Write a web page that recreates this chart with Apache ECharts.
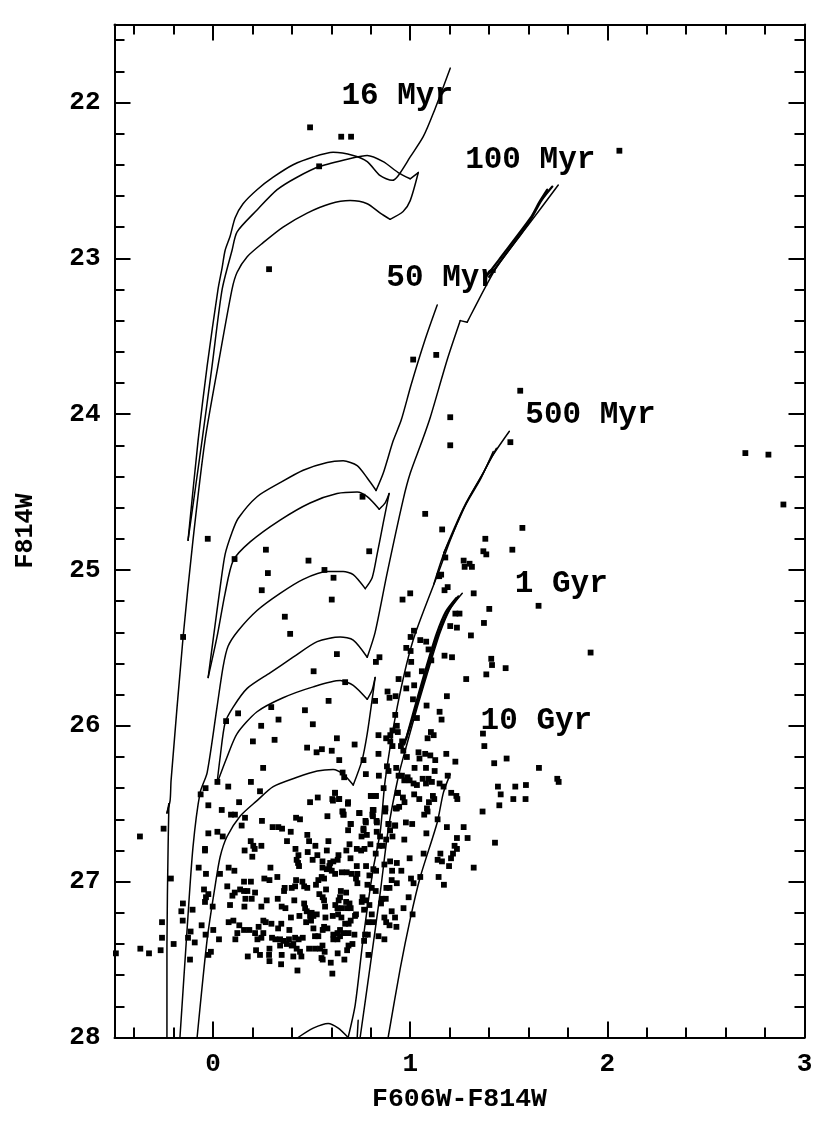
<!DOCTYPE html>
<html><head><meta charset="utf-8">
<style>html,body{margin:0;padding:0;background:#fff}#c{width:830px;height:1123px}</style>
<script src="https://cdn.jsdelivr.net/npm/echarts@6/dist/echarts.min.js"></script>
</head><body><div id="c"></div>
<script>
const xMajorTicks=[0,1,2,3];
const xMinorTicks=[-0.4,-0.2,0.2,0.4,0.6,0.8,1.2,1.4,1.6,1.8,2.2,2.4,2.6,2.8];
const yMajorTicks=[22,23,24,25,26,27,28];
const yMinorTicks=[21.6,21.8,22.2,22.4,22.6,22.8,23.2,23.4,23.6,23.8,24.2,24.4,24.6,24.8,25.2,25.4,25.6,25.8,26.2,26.4,26.6,26.8,27.2,27.4,27.6,27.8];
const ageNames=['16 Myr','100 Myr','50 Myr','500 Myr','1 Gyr','10 Gyr'];
const ageX=[0.934,1.609,1.162,1.914,1.766,1.64];
const ageY=[21.96,22.37,23.13,24.01,25.09,25.97];

const iso16=[[1.203,21.78],[1.117,22.07],[1.066,22.22],[1.0,22.35],[.939,22.47],[.909,22.5],[.848,22.47],[.782,22.38],[.711,22.34],[.609,22.32],[.508,22.35],[.406,22.4],[.305,22.48],[.223,22.56],[.152,22.65],[.112,22.74],[.086,22.86],[.061,22.95],[.046,23.06],[.025,23.2],[-.03,23.69],[-.076,24.17],[-.127,24.81],[-.056,24.17],[-.005,23.69],[.046,23.2],[.096,22.95],[.122,22.83],[.223,22.69],[.325,22.56],[.426,22.48],[.543,22.41],[.695,22.36],[.782,22.34],[.863,22.38],[.939,22.45],[1.0,22.49],[1.041,22.45],[1.0,22.63],[.964,22.7],[.898,22.75],[.848,22.71],[.782,22.65],[.695,22.63],[.594,22.65],[.477,22.71],[.355,22.8],[.254,22.9],[.173,22.99],[.122,23.09],[.096,23.2],[.025,23.69],[-.041,24.17],[-.102,24.81],[-.152,25.43],[-.213,26.35],[-.218,26.48],[-.234,26.56],[-.224,26.5],[-.228,26.77],[-.234,27.41],[-.234,28]];
const iso50=[[1.137,23.3],[1.076,23.52],[1.005,23.81],[.954,24.04],[.914,24.17],[.863,24.38],[.827,24.49],[.782,24.41],[.731,24.33],[.66,24.3],[.579,24.31],[.457,24.36],[.34,24.44],[.223,24.53],[.127,24.67],[.096,24.76],[.061,24.9],[.036,25.11],[0,25.45],[-.025,25.69],[.02,25.43],[.061,25.15],[.102,24.94],[.188,24.82],[.34,24.68],[.492,24.57],[.629,24.51],[.731,24.5],[.782,24.53],[.843,24.61],[.873,24.57],[.893,24.51],[.863,24.7],[.832,24.9],[.807,25.05],[.772,25.12],[.711,25.03],[.66,25.01],[.579,25.01],[.457,25.06],[.34,25.15],[.223,25.26],[.127,25.39],[.076,25.49],[.051,25.62],[.02,25.88],[-.03,26.3],[-.066,26.43],[-.102,26.78],[-.132,27.31],[-.168,28]];
const iso100=[[1.751,22.53],[1.609,22.77],[1.437,23.06],[1.289,23.41],[1.254,23.4],[1.188,23.65],[1.102,24.02],[1.061,24.17],[1.0,24.38],[.964,24.55],[.883,25.02],[.822,25.4],[.782,25.56],[.711,25.45],[.645,25.43],[.528,25.46],[.406,25.56],[.289,25.66],[.173,25.76],[.102,25.88],[.061,25.98],[.036,26.2],[.02,26.37],[.071,26.2],[.122,26.05],[.223,25.91],[.355,25.82],[.508,25.75],[.645,25.71],[.711,25.74],[.782,25.83],[.807,25.77],[.822,25.69],[.807,25.83],[.782,26.05],[.756,26.22],[.711,26.38],[.66,26.31],[.609,26.28],[.528,26.29],[.426,26.33],[.305,26.39],[.223,26.48],[.137,26.58],[.071,26.71],[.036,26.84],[.01,27.03],[-.03,27.37],[-.081,28]];
const iso100b=[[1.721,22.54],[1.665,22.63],[1.602,22.77],[1.44,23.05],[1.4,23.12]];
const iso100c=[[1.695,22.56],[1.655,22.64],[1.611,22.74],[1.45,23.01],[1.39,23.11]];
const iso500=[[1.503,24.11],[1.406,24.29],[1.355,24.42],[1.269,24.61],[1.203,24.81],[1.142,25.02],[1.015,25.45],[.934,25.88],[.873,26.35],[.848,26.68],[.812,26.92],[.761,27.37],[.721,27.79],[.685,28]];
const iso500b=[[1.437,24.22],[1.378,24.36],[1.293,24.55],[1.207,24.79],[1.17,24.89]];
const iso500c=[[1.421,24.24],[1.37,24.38],[1.283,24.57],[1.197,24.81],[1.155,24.95],[1.12,25.09]];
const iso1g=[[1.264,25.15],[1.203,25.25],[1.152,25.4],[1.102,25.6],[1.036,25.88],[.985,26.11],[.939,26.33],[.888,26.67],[.848,27.07],[.797,27.54],[.746,28]];
const iso1gb=[[1.244,25.17],[1.19,25.27],[1.14,25.42],[1.093,25.61],[1.03,25.88],[.97,26.12]];
const iso1gc=[[1.234,25.18],[1.18,25.27],[1.134,25.41],[1.085,25.61],[1.024,25.88],[.98,26.08]];
const iso10g=[[1.203,26.31],[1.168,26.43],[1.137,26.62],[1.051,26.97],[1.0,27.24],[.949,27.56],[.888,28]];
const isoBump=[[.431,28],[.508,27.94],[.584,27.91],[.635,27.94],[.685,28]];
const isoStub=[[.736,27.89],[.731,28]];

const stars=[[.077,26.39],[.192,26.36],[.022,26.36],[-.038,26.4],[-.063,26.44],[.238,26.42],[.132,26.49],[-.024,26.51],[.044,26.54],[.111,26.57],[.091,26.57],[.162,26.59],[.145,26.64],[.248,26.61],[-.251,26.66],[-.371,26.71],[.022,26.68],[-.024,26.69],[.049,26.71],[.302,26.65],[.331,26.65],[.35,26.66],[.394,26.68],[.421,26.59],[.441,26.6],[.492,26.49],[.531,26.46],[.605,26.47],[.619,26.43],[.639,26.47],[.685,26.49],[.58,26.58],[.656,26.55],[.661,26.57],[.741,26.56],[.8,26.45],[.825,26.45],[.874,26.53],[.81,26.54],[.808,26.57],[.829,26.61],[.773,26.61],[.697,26.63],[.685,26.67],[.763,26.67],[.78,26.7],[.753,26.71],[.478,26.7],[.487,26.74],[.585,26.74],[.375,26.74],[.191,26.74],[.204,26.77],[.211,26.79],[.245,26.77],[.16,26.8],[.199,26.84],[.418,26.79],[.433,26.83],[.424,26.86],[.431,26.88],[.436,26.9],[.48,26.81],[.505,26.86],[.529,26.83],[.519,26.77],[.577,26.8],[.555,26.87],[.555,26.91],[.594,26.88],[.61,26.87],[.636,26.83],[.632,26.86],[.676,26.8],[.692,26.76],[.697,26.85],[.729,26.79],[.751,26.8],[.768,26.79],[.798,26.76],[.825,26.82],[.844,26.77],[.861,26.77],[.878,26.73],[.91,26.71],[.847,26.71],[.83,26.68],[.89,26.63],[.898,26.67],[.923,26.64],[.937,26.43],[.932,26.53],
[-.041,26.79],[-.041,26.8],[-.073,26.91],[-.036,26.95],[.079,26.91],[.108,26.93],[.035,26.95],[.291,26.91],[.326,26.97],[.26,26.98],[.286,26.99],[.157,27],[.192,27],[.072,27.03],[-.046,27.05],[-.024,27.08],[-.036,27.1],[-.041,27.13],[.11,27.07],[.098,27.09],[.137,27.05],[.157,27.06],[.174,27.06],[.213,27.07],[.272,27.12],[.164,27.11],[.196,27.11],[.086,27.15],[.159,27.16],[-.002,27.16],[.245,27.16],[.328,27.11],[.348,27.16],[.367,27.17],[.363,27.04],[.36,27.06],[.399,27.04],[.416,27.03],[.421,26.99],[.453,27],[.462,27.03],[.478,27.04],[.522,27.02],[.534,26.99],[.551,26.97],[.563,26.98],[.577,26.92],[.59,26.9],[.602,26.93],[.619,26.95],[.653,26.94],[.678,26.94],[.703,26.95],[.729,26.9],[.732,26.95],[.725,26.98],[.732,27.01],[.776,26.9],[.813,26.92],[.827,26.93],[.793,26.96],[.783,27.02],[.805,27.04],[.825,27.06],[.869,26.89],[.898,26.87],[.932,26.88],[.908,26.93],[.906,26.99],[.932,27.01],[.895,27.04],[.879,27.04],
[.412,27.12],[.539,27.08],[.556,27.1],[.573,27.05],[.563,27.12],[.568,27.16],[.648,27.06],[.675,27.07],[.644,27.1],[.637,27.12],[.62,27.15],[.631,27.17],[.654,27.17],[.675,27.13],[.692,27.14],[.682,27.17],[.698,27.17],[.758,27.1],[.754,27.13],[.775,27.12],[.793,27.15],[.766,27.18],[.856,27.11],[.876,27.11],[.852,27.14],[.906,27.19],[.923,27.23],[.869,27.23],[.878,27.26],[.895,27.28],[.93,27.29],[.805,27.21],[.788,27.26],[.813,27.26],[.462,27.14],[.467,27.17],[.475,27.19],[.5,27.2],[.509,27.22],[.526,27.21],[.492,27.22],[.497,27.25],[.472,27.26],[.438,27.22],[.395,27.23],[.57,27.23],[.607,27.22],[.634,27.21],[.651,27.23],[.67,27.27],[.688,27.27],[.698,27.25],[.72,27.22],[.725,27.21],[.509,27.3],[.563,27.29],[.58,27.3],[.556,27.31],[.534,27.35],[.517,27.35],[.61,27.34],[.631,27.33],[.644,27.31],[.661,27.33],[.687,27.33],[.717,27.34],[.644,27.35],[.61,27.37],[.631,27.37],[.771,27.34],[.785,27.34],[.766,27.38],[.839,27.35],[.869,27.37],
[-.153,27.14],[-.104,27.18],[-.161,27.19],[-.154,27.25],[-.259,27.26],[-.058,27.28],[-.114,27.32],[-.127,27.36],[-.259,27.36],[-.2,27.4],[-.093,27.39],[.001,27.31],[-.038,27.34],[.03,27.37],[.079,27.26],[.103,27.25],[.133,27.28],[.157,27.31],[.184,27.31],[.213,27.33],[.123,27.33],[.113,27.37],[.225,27.37],[.231,27.29],[.255,27.25],[.267,27.26],[.296,27.27],[.255,27.33],[.245,27.36],[.299,27.36],[.316,27.37],[.33,27.3],[.346,27.27],[.387,27.31],[.34,27.37],[.357,27.38],[.34,27.41],[.385,27.37],[.416,27.36],[.455,27.36],[.434,27.37],[.407,27.4],[.374,27.4],[.399,27.41],[.424,27.43],[.441,27.45],[.448,27.48],[.407,27.48],[.487,27.43],[.517,27.43],[.543,27.43],[.555,27.41],[.566,27.45],[.55,27.49],[.556,27.5],[.597,27.52],[.632,27.46],[.666,27.5],[.68,27.44],[.687,27.41],[.707,27.4],[.605,27.59],[.428,27.57],[.345,27.53],[.286,27.51],[.284,27.47],[.238,27.47],[.218,27.44],[.176,27.48],[.286,27.43],[.348,27.47],[-.325,27.46],[-.369,27.43],[-.266,27.44],[-.493,27.46],[-.117,27.5],[-.011,27.45],[-.024,27.47],[-.214,26.98],[.788,27.47],
[1.271,24.94],[1.276,24.98],[1.301,24.96],[1.313,24.98],[1.157,25.03],[1.147,25.04],[1.19,25.11],[1.174,25.13],[1.322,25.15],[1.0,25.15],[.961,25.19],[.611,25.05],[.602,25.19],[1.651,25.23],[1.401,25.25],[1.374,25.34],[1.229,25.28],[1.25,25.28],[1.203,25.36],[1.237,25.37],[1.308,25.42],[1.019,25.39],[1.002,25.43],[1.051,25.45],[1.081,25.46],[.98,25.5],[1.002,25.52],[1.093,25.51],[.628,25.54],[.844,25.56],[.826,25.59],[1.174,25.55],[1.212,25.56],[1.411,25.57],[1.415,25.61],[1.484,25.63],[1.386,25.67],[1.284,25.7],[1.915,25.53],[1.005,25.59],[1.107,25.58],[1.059,25.65],[.987,25.67],[.941,25.7],[.67,25.72],[1.02,25.74],[.98,25.76],[.885,25.78],[.926,25.81],[.895,25.82],[.822,25.84],[1.014,25.83],[1.186,25.81],[1.083,25.87],[1.149,25.91],[1.159,25.96],[1.034,25.95],[.924,25.93],[.91,26.03],[.932,26],[.937,26.04],[1.369,26.05],[1.105,26.04],[1.119,26.06],[1.088,26.08],[.839,26.06],[.899,26.06],[.878,26.08],[.899,26.1],[.91,26.13],[1.376,26.13],[.959,26.1],[.953,26.13],[.965,26.16],[.628,26.08],[.718,26.12],[.602,26.16],[.839,26.18],[1.042,26.17],[1.076,26.18],[1.102,26.19],[1.047,26.21],[1.127,26.22],[.983,26.2],[1.183,26.18],[1.229,26.23],[1.426,26.24],[1.489,26.21],[.64,26.22],[.763,26.22],[1.653,26.27],[1.022,26.27],[1.08,26.27],[1.124,26.29],[.882,26.26],[.89,26.29],[.929,26.27],[.841,26.32],[.775,26.31],[.657,26.3],[.665,26.33],[.941,26.32],[.958,26.32],[.987,26.33],[.97,26.35],[.997,26.35],[1.017,26.37],[1.034,26.38],[1.063,26.34],[1.093,26.34],[1.11,26.36],[1.08,26.37],[1.149,26.37],[1.169,26.39],[1.19,26.32],[.865,26.4],[1.746,26.34],[1.753,26.36],[1.445,26.39],[1.533,26.39],[1.587,26.38],[1.459,26.44],[1.523,26.47],[1.585,26.47],[1.452,26.51],[1.367,26.55],[.619,26.43],[.608,26.48],[.64,26.47],[.684,26.5],[.802,26.45],[.826,26.45],[.937,26.43],[1.02,26.44],[1.046,26.47],[.963,26.46],[.971,26.49],[1.115,26.45],[1.122,26.47],[1.095,26.49],[1.208,26.43],[1.234,26.45],[1.239,26.47],[.658,26.55],[.662,26.57],[.743,26.56],[.811,26.58],[.814,26.54],[.873,26.53],[.873,26.55],[.927,26.53],[.944,26.52],[1.085,26.53],[1.088,26.55],[1.071,26.57],[.775,26.62],[.699,26.63],[.831,26.62],[.89,26.63],[.924,26.64],[.978,26.62],[1.01,26.63],[1.139,26.6],[1.186,26.65],[1.271,26.65],[.763,26.66],
[.97,26.73],[.997,26.85],[.955,26.93],[1.004,26.98],[1.017,27.01],[.992,27.1],[.966,27.17],[1.012,27.21],[1.082,26.69],[1.068,26.82],[1.051,26.97],[1.153,26.82],[1.139,26.86],[1.161,26.87],[1.144,26.97],[1.171,27.02],[1.207,26.85],[1.197,26.9],[1.217,26.82],[1.237,26.79],[1.225,26.77],[1.237,26.72],[1.291,26.72],[1.43,26.75],[1.322,26.91],
[-.027,24.8],[.109,24.93],[.268,24.87],[.792,24.88],[.758,24.53],[.484,24.94],[.565,25],[.278,25.02],[.247,25.13],[.364,25.3],[.391,25.41],[-.152,25.43],[.51,25.65],[.586,25.84],[.295,25.88],[.466,25.9],[.332,25.96],[.127,25.92],[.066,25.97],[.506,25.99],[.244,26],[.202,26.1],[.312,26.09],[.477,26.14],[.525,26.17],[.552,26.15],[.254,26.27],
[1.015,23.65],[1.132,23.62],[1.558,23.85],[1.203,24.02],[1.203,24.2],[1.508,24.18],[1.076,24.64],[1.162,24.74],[1.569,24.73],[1.381,24.8],[1.518,24.87],[1.371,24.88],[1.386,24.9],[1.178,24.92],
[.492,22.16],[.65,22.22],[.7,22.22],[.538,22.41],[.284,23.07],[2.061,22.31],[2.7,24.25],[2.817,24.26],[2.893,24.58]];

const FONT='"Liberation Mono"';
const gridBox={left:114.5,top:24.5,width:690,height:1013,outerBoundsMode:'none',containLabel:false};
function xAxis(gridIndex,pos,ticks,len,main){
  return {type:'value',gridIndex,position:pos,min:-0.5,max:3,
    axisLine:{show:main,onZero:false,lineStyle:{color:'#000',width:2}},
    axisTick:{show:true,inside:true,length:len,customValues:ticks,lineStyle:{color:'#000',width:2}},
    axisLabel:(main&&pos==='bottom')?{show:true,customValues:ticks,margin:14,color:'#000',fontFamily:FONT,fontWeight:'bold',fontSize:26,formatter:v=>String(v)}:{show:false},
    splitLine:{show:false},
    name:(main&&pos==='bottom')?'F606W-F814W':'',nameLocation:'middle',nameGap:48,
    nameTextStyle:{color:'#000',fontFamily:FONT,fontWeight:'bold',fontSize:26.5}};
}
function yAxis(gridIndex,pos,ticks,len,main){
  return {type:'value',gridIndex,position:pos,inverse:true,min:21.5,max:28,
    axisLine:{show:main,onZero:false,lineStyle:{color:'#000',width:2}},
    axisTick:{show:true,inside:true,length:len,customValues:ticks,lineStyle:{color:'#000',width:2}},
    axisLabel:(main&&pos==='left')?{show:true,customValues:ticks,margin:14,color:'#000',fontFamily:FONT,fontWeight:'bold',fontSize:26,formatter:v=>String(v)}:{show:false},
    splitLine:{show:false},
    name:(main&&pos==='left')?'F814W':'',nameLocation:'middle',nameGap:76,
    nameTextStyle:{color:'#000',fontFamily:FONT,fontWeight:'bold',fontSize:25}};
}
function segments(pts){
  const out=[];let cur=[pts[0]];
  for(let i=1;i<pts.length;i++){
    cur.push(pts[i]);
    if(i<pts.length-1){
      const ax=pts[i][0]-pts[i-1][0],ay=(pts[i][1]-pts[i-1][1])*.8,bx=pts[i+1][0]-pts[i][0],by=(pts[i+1][1]-pts[i][1])*.8;
      const c=(ax*bx+ay*by)/Math.hypot(ax,ay)/Math.hypot(bx,by);
      if(c<0.45){out.push(cur);cur=[pts[i]];}
    }
  }
  out.push(cur);return out;
}
function curve(d,w){return {type:'line',xAxisIndex:0,yAxisIndex:0,data:d,showSymbol:false,symbol:'none',smooth:0.25,clip:true,silent:true,
  lineStyle:{color:'#000',width:w||1.5,cap:'round'},z:3};}
const thinCurves=[iso16,iso50,iso100,iso500,iso500b,iso500c,iso1g,iso10g,isoBump,isoStub];
const thickCurves=[iso100b,iso100c,iso1gb,iso1gc];
const chart=echarts.init(document.getElementById('c'),null,{renderer:'canvas'});
chart.setOption({
  animation:false,backgroundColor:'#fff',
  grid:[Object.assign({},gridBox),Object.assign({},gridBox)],
  xAxis:[xAxis(0,'bottom',xMajorTicks,16,true),xAxis(0,'top',xMajorTicks,16,true),xAxis(1,'bottom',xMinorTicks,10,false),xAxis(1,'top',xMinorTicks,10,false)],
  yAxis:[yAxis(0,'left',yMajorTicks,16,true),yAxis(0,'right',yMajorTicks,16,true),yAxis(1,'left',yMinorTicks,10,false),yAxis(1,'right',yMinorTicks,10,false)],
  series:thinCurves.flatMap(segments).map(d=>curve(d,1.5)).concat(thickCurves.map(d=>curve(d,2.2))).concat([
    {type:'scatter',xAxisIndex:0,yAxisIndex:0,data:stars,symbol:'rect',symbolSize:5.8,itemStyle:{color:'#000',opacity:1},silent:true,z:4},
    {type:'scatter',xAxisIndex:0,yAxisIndex:0,symbolSize:0,silent:true,z:5,
     data:ageNames.map((n,i)=>({name:n,value:[ageX[i],ageY[i]]})),
     label:{show:true,position:'inside',formatter:'{b}',color:'#000',opacity:1,fontFamily:FONT,fontWeight:'bold',fontSize:31}}
  ])
});
</script></body></html>
